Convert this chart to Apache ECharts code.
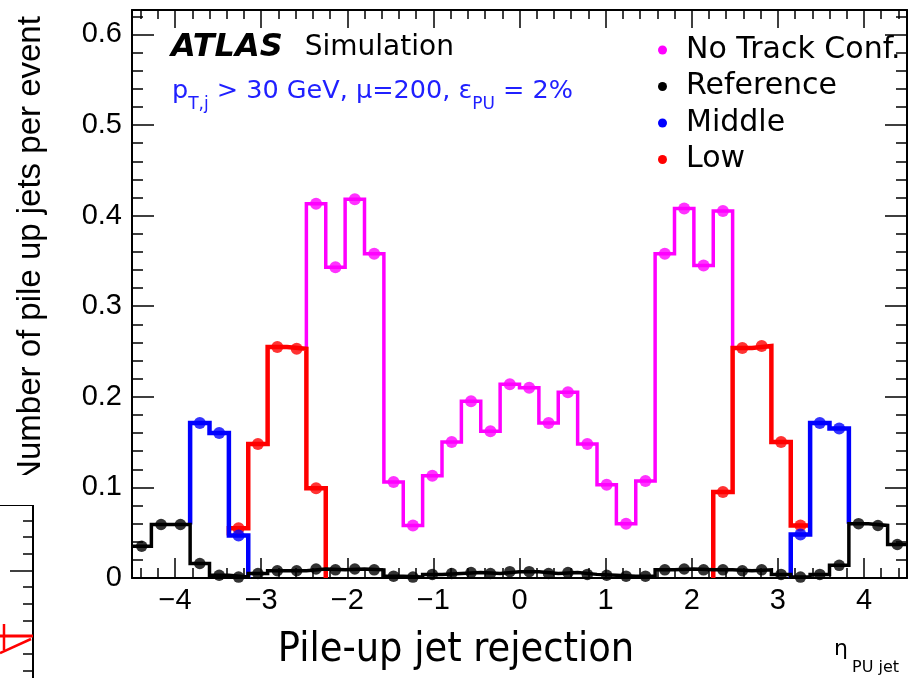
<!DOCTYPE html>
<html>
<head>
<meta charset="utf-8">
<title>Pile-up jet rejection</title>
<script src="https://cdn.jsdelivr.net/npm/echarts@6/dist/echarts.min.js"></script>
<style>
  html, body { margin: 0; padding: 0; background: #fff; }
  #chart { width: 915px; height: 678px; }
</style>
</head>
<body>
<div id="chart"></div>
<script>
  // eta binning: 40 bins from -4.5 to 4.5
  var etaMin = -4.5;
  var etaMax = 4.5;
  var nBins = 40;

  // pile-up jets per event, one value per eta bin (null = not drawn)
  var reference = [0.035, 0.059, 0.059, 0.016, 0.003, 0.001, 0.005, 0.008, 0.008, 0.010,
                   0.009, 0.010, 0.009, 0.002, 0.001, 0.004, 0.005, 0.006, 0.005, 0.007,
                   0.007, 0.005, 0.006, 0.004, 0.003, 0.002, 0.002, 0.009, 0.010, 0.009,
                   0.009, 0.008, 0.009, 0.004, 0.001, 0.004, 0.014, 0.060, 0.058, 0.037];
  var noTrackConf = [null, null, null, null, null, null, null, null, null,
                     0.413, 0.343, 0.418, 0.358, 0.106, 0.058, 0.113, 0.150, 0.195, 0.162, 0.214,
                     0.210, 0.171, 0.205, 0.148, 0.103, 0.060, 0.107, 0.358, 0.408, 0.345, 0.405,
                     null, null, null, null, null, null, null, null, null];
  var low = [null, null, null, null, null, 0.055, 0.148, 0.255, 0.253, 0.099,
             null, null, null, null, null, null, null, null, null, null,
             null, null, null, null, null, null, null, null, null, null,
             0.095, 0.254, 0.256, 0.150, 0.058, null, null, null, null, null];
  var middle = [null, null, null, 0.171, 0.160, 0.047, null, null, null, null,
                null, null, null, null, null, null, null, null, null, null,
                null, null, null, null, null, null, null, null, null, null,
                null, null, null, null, 0.048, 0.171, 0.165, null, null, null];

  // where each drawn run starts/ends vertically: [from level, to level]
  var noTrackEdges = { 9: [low[8], low[31]] };
  var lowEdges = { 5: [middle[5], 0], 30: [0, low[34]] };
  var middleEdges = { 3: [reference[2], 0], 34: [0, reference[37]] };
  var referenceEdges = { 0: [reference[0], reference[39]] };

  var yMax = 0.627;

  function binEdge(i) { return etaMin + i * (etaMax - etaMin) / nBins; }

  // histogram outline, one line series per contiguous run of bins
  function outline(name, vals, edges, color, width, z) {
    var out = [];
    var i = 0;
    while (i < nBins) {
      if (vals[i] == null) { i++; continue; }
      var start = i;
      while (i < nBins && vals[i] != null) i++;
      var end = i - 1;
      var lv = edges[start] || [0, 0];
      var pts = [[binEdge(start), lv[0]]];
      for (var k = start; k <= end; k++) {
        pts.push([binEdge(k), vals[k]], [binEdge(k + 1), vals[k]]);
      }
      pts.push([binEdge(end + 1), lv[1]]);
      out.push({
        name: name, type: 'line', data: pts, showSymbol: false, z: z,
        color: color, itemStyle: { color: color },
        lineStyle: { color: color, width: width, join: 'miter' },
        silent: true, animation: false
      });
    }
    return out;
  }

  function markers(name, vals, color, size, z) {
    var pts = [];
    for (var k = 0; k < nBins; k++) {
      if (vals[k] != null) pts.push([binEdge(k + 0.5), vals[k]]);
    }
    return {
      name: name, type: 'scatter', data: pts, symbol: 'circle', symbolSize: size,
      itemStyle: { color: color }, z: z, silent: true, animation: false
    };
  }

  var series = [].concat(
    outline('No Track Conf.', noTrackConf, noTrackEdges, '#ff00ff', 3.5, 2),
    outline('Low', low, lowEdges, '#ff0000', 4.5, 3),
    outline('Middle', middle, middleEdges, '#0000ff', 4.5, 4),
    outline('Reference', reference, referenceEdges, '#000000', 3.5, 5),
    [markers('No Track Conf.', noTrackConf, '#ff00ff', 12, 6),
     markers('Low', low, '#ff0000', 12, 6),
     markers('Middle', middle, '#0000ff', 12, 6),
     markers('Reference', reference, '#000000', 11.5, 7)]
  );

  var blk = '#000';
  var numFont = 'Liberation Sans';
  var txtFont = 'DejaVu Sans';

  function xAx(pos, major, showLabel) {
    return {
      type: 'value', position: pos, min: etaMin, max: etaMax,
      splitNumber: major ? 9 : 45,
      axisLine: { show: major, onZero: false, lineStyle: { color: blk, width: 2 } },
      axisTick: { show: true, inside: true, length: major ? (pos === 'top' ? 18 : 20) : (pos === 'top' ? 9 : 10),
                  lineStyle: { color: blk, width: 1.5 } },
      axisLabel: {
        show: showLabel, color: blk, fontSize: 29, fontFamily: numFont, margin: 8,
        showMinLabel: false, showMaxLabel: false,
        formatter: function (v) { return String(v).replace('-', '\u2212'); }
      },
      splitLine: { show: false }
    };
  }

  function yAx(pos, major, showLabel) {
    return {
      type: 'value', position: pos, min: 0, max: yMax,
      interval: major ? 0.1 : 0.02,
      axisLine: { show: major, onZero: false, lineStyle: { color: blk, width: 2 } },
      axisTick: { show: true, inside: true, length: major ? 22 : 11, lineStyle: { color: blk, width: 1.5 } },
      axisLabel: {
        show: showLabel, color: blk, fontSize: 29, fontFamily: numFont, margin: 10,
        showMaxLabel: false,
        formatter: function (v) { return String(Math.round(v * 10) / 10); }
      },
      splitLine: { show: false }
    };
  }

  var chart = echarts.init(document.getElementById('chart'), null, { renderer: 'canvas' });
  chart.setOption({
    backgroundColor: '#fff',
    animation: false,
    grid: { left: 132, right: 8, top: 10, bottom: 100, containLabel: false },
    xAxis: [xAx('bottom', true, true), xAx('top', true, false), xAx('bottom', false, false), xAx('top', false, false)],
    yAxis: [yAx('left', true, true), yAx('right', true, false), yAx('left', false, false), yAx('right', false, false)],
    legend: {
      data: ['No Track Conf.', 'Reference', 'Middle', 'Low'],
      orient: 'vertical', left: 653, top: 27,
      icon: 'circle', itemWidth: 9, itemHeight: 9, itemGap: 0.5,
      selectedMode: false,
      textStyle: { color: blk, fontSize: 30, fontFamily: txtFont, lineHeight: 36, padding: [0, 0, 0, 14] }
    },
    graphic: [
      { type: 'text', x: 31, y: 250, rotation: Math.PI / 2, z: 10,
        style: { text: 'Number of pile up jets per event', fill: blk, fontSize: 33, fontFamily: numFont,
                 align: 'center', verticalAlign: 'middle' } },
      { type: 'rect', shape: { x: 0, y: 475, width: 60, height: 30 }, style: { fill: '#fff' }, z: 11 },
      { type: 'text', x: 171, y: 48, z: 10,
        style: { text: '{b|ATLAS}{n|Simulation}', verticalAlign: 'middle',
                 rich: { b: { fontSize: 32, fontWeight: 'bold', fontStyle: 'italic', fontFamily: txtFont, fill: blk },
                         n: { fontSize: 28, fontFamily: txtFont, fill: blk, padding: [0, 0, 0, 22] } } } },
      { type: 'text', x: 172, y: 78, z: 10,
        style: { text: '{m|p}{s|T,j}{m| > 30 GeV, \u03bc=200, \u03b5}{s|PU}{m| = 2%}', verticalAlign: 'top',
                 rich: { m: { fontSize: 25.5, lineHeight: 30, verticalAlign: 'top', fontFamily: txtFont, fill: '#2020ff' },
                         s: { fontSize: 17, lineHeight: 17, verticalAlign: 'top', padding: [18, 0, 0, 0], fontFamily: txtFont, fill: '#2020ff' } } } },
      { type: 'text', x: 456, y: 650, z: 10,
        style: { text: 'Pile-up jet rejection', fill: blk, fontSize: 41,
                 fontFamily: '"DejaVu Sans Condensed", "DejaVu Sans", sans-serif', align: 'center', verticalAlign: 'middle' } },
      { type: 'text', x: 841, y: 649, z: 10,
        style: { text: '\u03b7', fill: blk, fontSize: 22, fontFamily: txtFont, align: 'center', verticalAlign: 'middle' } },
      { type: 'text', x: 852, y: 668, z: 10,
        style: { text: 'PU jet', fill: blk, fontSize: 16, fontFamily: txtFont, align: 'left', verticalAlign: 'middle' } },
      // edge of the neighbouring panel, cut by the crop
      { type: 'group', z: 10, children: [
        { type: 'line', shape: { x1: 33, y1: 504, x2: 33, y2: 678 }, style: { stroke: blk, lineWidth: 2 } },
        { type: 'line', shape: { x1: 0, y1: 505, x2: 33, y2: 505 }, style: { stroke: blk, lineWidth: 2 } },
        { type: 'line', shape: { x1: 23, y1: 521, x2: 33, y2: 521 }, style: { stroke: blk, lineWidth: 1.5 } },
        { type: 'line', shape: { x1: 23, y1: 537, x2: 33, y2: 537 }, style: { stroke: blk, lineWidth: 1.5 } },
        { type: 'line', shape: { x1: 23, y1: 554, x2: 33, y2: 554 }, style: { stroke: blk, lineWidth: 1.5 } },
        { type: 'line', shape: { x1: 10, y1: 571, x2: 33, y2: 571 }, style: { stroke: blk, lineWidth: 1.5 } },
        { type: 'line', shape: { x1: 23, y1: 587, x2: 33, y2: 587 }, style: { stroke: blk, lineWidth: 1.5 } },
        { type: 'line', shape: { x1: 23, y1: 604, x2: 33, y2: 604 }, style: { stroke: blk, lineWidth: 1.5 } },
        { type: 'line', shape: { x1: 23, y1: 621, x2: 33, y2: 621 }, style: { stroke: blk, lineWidth: 1.5 } },
        { type: 'line', shape: { x1: 23, y1: 654, x2: 33, y2: 654 }, style: { stroke: blk, lineWidth: 1.5 } },
        { type: 'line', shape: { x1: 23, y1: 671, x2: 33, y2: 671 }, style: { stroke: blk, lineWidth: 1.5 } },
        { type: 'line', shape: { x1: 0, y1: 636, x2: 33, y2: 636 }, style: { stroke: '#ff0000', lineWidth: 3 } },
        { type: 'line', shape: { x1: 0, y1: 653, x2: 31, y2: 639 }, style: { stroke: '#ff0000', lineWidth: 2.5 } },
        { type: 'line', shape: { x1: 4, y1: 624, x2: 4, y2: 650 }, style: { stroke: '#ff0000', lineWidth: 2.5 } }
      ] }
    ],
    series: series
  });
</script>
</body>
</html>
